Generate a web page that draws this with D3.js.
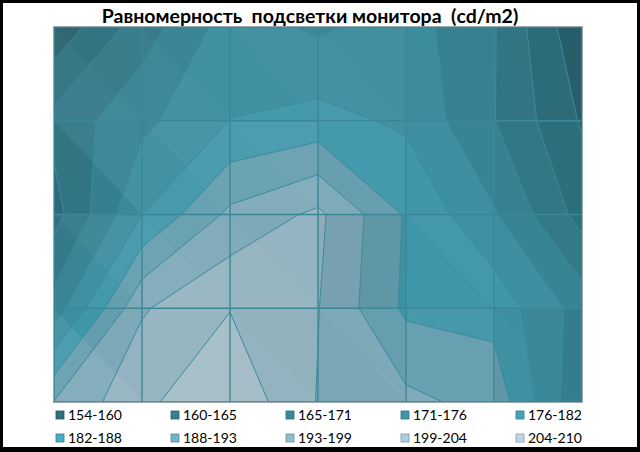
<!DOCTYPE html>
<html>
<head>
<meta charset="utf-8">
<script src="https://cdnjs.cloudflare.com/ajax/libs/d3/7.8.5/d3.min.js"></script>
<style>
  body { margin: 0; background: #fff; }
  text { font-family: Lato, "Open Sans", sans-serif; }
</style>
</head>
<body>
<script>
// measuring points across the screen (columns) and down (rows)
var cols = ['1', '2', '3', '4', '5', '6', '7'];
var rows = ['1', '2', '3', '4', '5'];

// brightness, cd/m2, one array per row from top to bottom
var row1 = [155.5, 168, 179, 175.5, 179, 171.2, 155];
var row2 = [167, 175, 182.1, 184, 181, 171, 159];
var row3 = [163, 182, 194.5, 200, 187, 177, 163];
var row4 = [173, 198.2, 204.2, 199, 186.5, 185.6, 174];
var row5 = [193.4, 203.2, 209, 198.5, 194.7, 191.1, 171.6];

var bandLimits = [154, 159.6, 165.2, 170.8, 176.4, 182, 187.6, 193.2, 198.8, 204.4, 210];
var bandLabels = ['154-160', '160-165', '165-171', '171-176', '176-182',
                  '182-188', '188-193', '193-199', '199-204', '204-210'];

var palette = ['#2f6f7d', '#347f8f', '#3a8a9b', '#3f96a9', '#45a2b7',
               '#4aacc1', '#72b4c7', '#8ec0d1', '#a8cddb', '#bdd8e2'];

var W = 640, H = 452;
var pLeft = 54, pRight = 582, pTop = 27, pBottom = 402;

var svg = d3.select('body').append('svg')
            .attr('width', W)
            .attr('height', H);

svg.append('rect')
   .attr('width', W).attr('height', H)
   .style('fill', '#fff');

var x = d3.scaleLinear().domain([0.5, cols.length - 0.5]).range([pLeft, pRight]);
var y = d3.scaleLinear().domain([0.5, rows.length - 0.5]).range([pTop, pBottom]);

var grid = [].concat(row1, row2, row3, row4, row5);
var nx = cols.length, ny = rows.length;

var contours = d3.contours()
                 .size([nx, ny])
                 .thresholds(bandLimits.slice(0, -1))(grid);

var proj = d3.geoTransform({
  point: function(px, py) { this.stream.point(x(px), y(py)); }
});
var path = d3.geoPath(proj);

svg.append('clipPath').attr('id', 'clip')
   .append('rect')
   .attr('x', pLeft).attr('y', pTop)
   .attr('width', pRight - pLeft).attr('height', pBottom - pTop);

var plot = svg.append('g').attr('clip-path', 'url(#clip)');

function dim(c, k) {
  var r = d3.rgb(c);
  return d3.rgb(r.r * k, r.g * k, r.b * k);
}

plot.selectAll('path.band')
    .data(contours)
    .join('path')
    .attr('class', 'band')
    .attr('d', path)
    .style('fill', function(d, i) { return dim(palette[i], 0.88); });

// facet shading, each cell split along its top-left / bottom-right diagonal
var light = [-0.15, -0.55, 0.8];
var ll = Math.hypot(light[0], light[1], light[2]);
light = light.map(function(v) { return v / ll; });
function bright(gx, gy) {
  var k = 0.03;
  var n = [-gx * k, -gy * k, 1];
  var nl = Math.hypot(n[0], n[1], n[2]);
  return (n[0] * light[0] + n[1] * light[1] + n[2] * light[2]) / nl - light[2];
}

var facets = [];
for (var j = 0; j < ny - 1; j++) {
  for (var i = 0; i < nx - 1; i++) {
    var tl = grid[j * nx + i], tr = grid[j * nx + i + 1];
    var bl = grid[(j + 1) * nx + i], br = grid[(j + 1) * nx + i + 1];
    facets.push({ pts: [[i, j], [i + 1, j], [i + 1, j + 1]], b: bright(tr - tl, br - tr) });
    facets.push({ pts: [[i, j], [i, j + 1], [i + 1, j + 1]], b: bright(br - bl, bl - tl) });
  }
}

plot.selectAll('polygon.facet')
    .data(facets)
    .join('polygon')
    .attr('class', 'facet')
    .attr('points', function(d) {
      return d.pts.map(function(p) { return x(p[0] + 0.5) + ',' + y(p[1] + 0.5); }).join(' ');
    })
    .style('fill', function(d) { return d.b > 0 ? '#fff' : '#000'; })
    .style('fill-opacity', function(d) { return Math.min(0.06, Math.abs(d.b) * 0.35); });

// contour lines
plot.selectAll('path.line')
    .data(contours.slice(1))
    .join('path')
    .attr('class', 'line')
    .attr('d', path)
    .style('fill', 'none')
    .style('stroke', '#3c8a9c')
    .style('stroke-width', 1);

// grid lines at the measuring points
svg.append('g').selectAll('line')
   .data(cols)
   .join('line')
   .attr('x1', function(d, i) { return x(i + 0.5); })
   .attr('x2', function(d, i) { return x(i + 0.5); })
   .attr('y1', pTop).attr('y2', pBottom)
   .style('stroke', '#3a8799')
   .style('stroke-width', 1.4);

svg.append('g').selectAll('line')
   .data(rows)
   .join('line')
   .attr('y1', function(d, i) { return y(i + 0.5); })
   .attr('y2', function(d, i) { return y(i + 0.5); })
   .attr('x1', pLeft).attr('x2', pRight)
   .style('stroke', '#3a8799')
   .style('stroke-width', 1.4);

svg.append('rect')
   .attr('x', pLeft - 0.5).attr('y', pTop - 0.5)
   .attr('width', pRight - pLeft + 1).attr('height', pBottom - pTop + 1)
   .style('fill', 'none')
   .style('stroke', '#9aa9ae')
   .style('stroke-width', 1);

// title
svg.append('text')
   .attr('x', 310)
   .attr('y', 23)
   .attr('text-anchor', 'middle')
   .style('font-size', '19.5px')
   .style('font-weight', 'bold')
   .style('white-space', 'pre')
   .text('Равномерность  подсветки монитора  (cd/m2)');

// legend
var leg = svg.append('g').selectAll('g')
   .data(bandLabels)
   .join('g')
   .attr('transform', function(d, i) {
     return 'translate(' + (56 + (i % 5) * 115) + ',' + (411 + Math.floor(i / 5) * 23) + ')';
   });

leg.append('rect')
   .attr('width', 8).attr('height', 8)
   .style('fill', function(d, i) { return palette[i]; })
   .style('stroke', function(d, i) { return dim(palette[i], 0.75); })
   .style('stroke-width', 0.8);

leg.append('text')
   .attr('x', 12)
   .attr('y', 9)
   .style('font-size', '14px')
   .text(function(d) { return d; });

// outer frame
svg.append('rect')
   .attr('width', W).attr('height', H)
   .style('fill', 'none')
   .style('stroke', '#000')
   .style('stroke-width', 6);
svg.append('rect')
   .attr('x', 0).attr('y', 447)
   .attr('width', W).attr('height', 5)
   .style('fill', '#000');
</script>
</body>
</html>
